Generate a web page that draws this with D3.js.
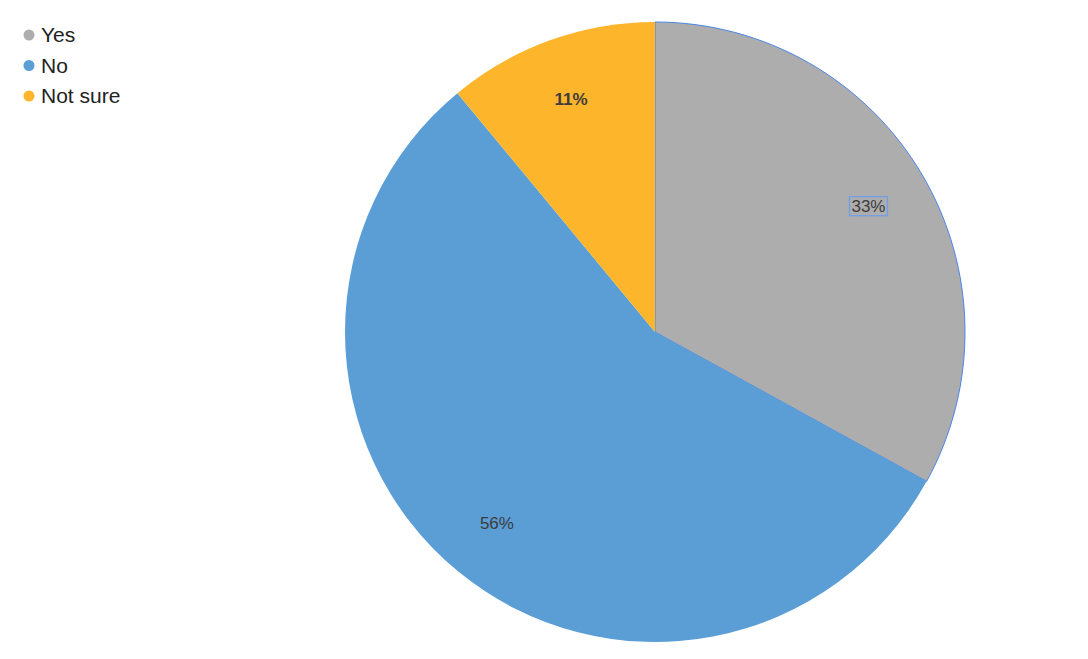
<!DOCTYPE html>
<html>
<head>
<meta charset="utf-8">
<script src="https://cdn.jsdelivr.net/npm/d3@7"></script>
<style>
  body { margin: 0; background: #fff; font-family: "Liberation Sans", Arial, sans-serif; }
</style>
</head>
<body>
<div id="chart"></div>
<script>
const categories = ["Yes", "No", "Not sure"];
const values = [33, 56, 11];
const colors = ["#adadad", "#5b9dd5", "#fdb62c"];

const width = 1088, height = 659;
const cx = 655, cy = 332, radius = 310;

const svg = d3.select("#chart").append("svg")
    .attr("width", width)
    .attr("height", height);

const pie = d3.pie().sort(null).value(d => d.value);
const arcs = pie(categories.map((c, i) => ({ name: c, value: values[i] })));

const arc = d3.arc().innerRadius(0).outerRadius(radius);
const labelArc = d3.arc().innerRadius(radius * 0.8).outerRadius(radius * 0.8);

const g = svg.append("g").attr("transform", `translate(${cx},${cy})`);

g.selectAll("path")
    .data(arcs)
    .enter().append("path")
    .attr("d", arc)
    .attr("fill", (d, i) => colors[i])
    .attr("stroke", (d, i) => i === 0 ? "#4a86e8" : "none")
    .attr("stroke-width", 1);

const total = d3.sum(values);
const labels = g.selectAll("g.lbl")
    .data(arcs)
    .enter().append("g")
    .attr("class", "lbl")
    .attr("transform", d => `translate(${labelArc.centroid(d)})`);

labels.append("text")
    .attr("text-anchor", "middle")
    .attr("dy", "0.35em")
    .attr("font-size", 17)
    .attr("fill", "#3c3c3c")
    .attr("font-weight", (d, i) => i === 2 ? "bold" : "normal")
    .text(d => Math.round(d.data.value / total * 100) + "%");

// selected label box on the first slice
labels.filter((d, i) => i === 0).each(function () {
    const t = d3.select(this).select("text").node().getBBox();
    d3.select(this).insert("rect", "text")
        .attr("x", t.x - 2).attr("y", t.y)
        .attr("width", t.width + 4).attr("height", t.height)
        .attr("fill", "none")
        .attr("stroke", "#6d9eeb")
        .attr("stroke-width", 1.2);
});

// legend
const legend = svg.append("g").attr("transform", "translate(29,35)");
const items = legend.selectAll("g")
    .data(categories)
    .enter().append("g")
    .attr("transform", (d, i) => `translate(0,${i * 30.5})`);

items.append("circle")
    .attr("r", 5.5)
    .attr("fill", (d, i) => colors[i]);

items.append("text")
    .attr("x", 12)
    .attr("dy", "0.35em")
    .attr("font-size", 21)
    .attr("fill", "#222")
    .text(d => d);
</script>
</body>
</html>
